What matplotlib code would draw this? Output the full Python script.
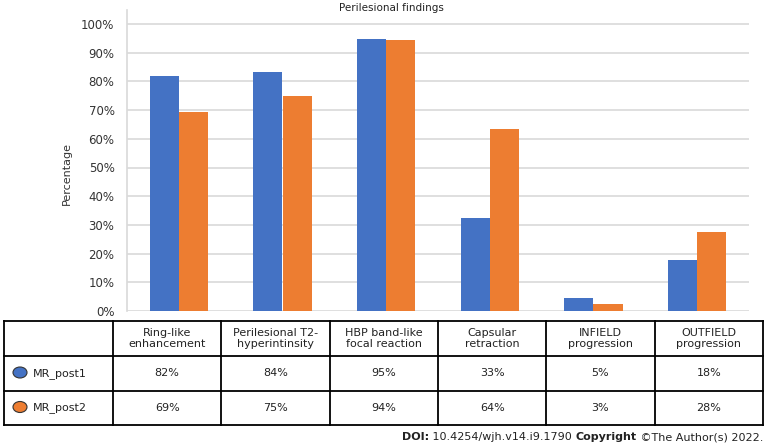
import numpy as np
import matplotlib
matplotlib.use('Agg')
import matplotlib.pyplot as plt
from matplotlib.patches import Ellipse

# data
categories = ['Ring-like\nenhancement', 'Perilesional T2-\nhyperintinsity', 'HBP band-like\nfocal reaction',
              'Capsular\nretraction', 'INFIELD\nprogression', 'OUTFIELD\nprogression']
series_names = ['MR_post1', 'MR_post2']
post1 = [0.818, 0.833, 0.949, 0.323, 0.046, 0.177]
post2 = [0.692, 0.748, 0.943, 0.634, 0.024, 0.274]
post1_labels = ['82%', '84%', '95%', '33%', '5%', '18%']
post2_labels = ['69%', '75%', '94%', '64%', '3%', '28%']
yticks = [0, 0.1, 0.2, 0.3, 0.4, 0.5, 0.6, 0.7, 0.8, 0.9, 1.0]

blue = '#4472C4'
orange = '#ED7D31'
grid_col = '#d9d9d9'

plt.rcParams['font.family'] = ['DejaVu Sans']

W, H = 765, 447
fig = plt.figure(figsize=(W / 100, H / 100), dpi=100)

def fx(px):
    return px / W

def fy(py):
    return 1 - py / H

# bar chart
ax = fig.add_axes([fx(127), fy(311), fx(749) - fx(127), fy(10) - fy(311)])
x = np.arange(len(categories))
bw = 0.28
ax.bar(x - bw / 2, post1, bw, color=blue, zorder=3)
ax.bar(x + bw / 2, post2, bw, color=orange, zorder=3)
ax.set_xlim(-0.5, len(categories) - 0.5)
ax.set_ylim(0, 1.0 + 14 / 287)
ax.set_yticks(yticks)
ax.set_yticklabels(['%d%%' % round(v * 100) for v in yticks], fontsize=8.5, color='#333333')
ax.set_xticks([])
ax.tick_params(axis='y', length=0, pad=9)
for v in yticks:
    ax.axhline(v, color=grid_col, lw=1.2, zorder=1)
for s in ['top', 'right', 'bottom']:
    ax.spines[s].set_visible(False)
ax.spines['left'].set_color(grid_col)
ax.spines['left'].set_linewidth(1.2)
ax.set_ylabel('Percentage', fontsize=8, color='#333333')
ax.yaxis.set_label_coords(-0.088, 0.458)
fig.text(fx(391), fy(8), 'Perilesional findings', ha='center', va='center', fontsize=7.5, color='#222222')

# data table
tax = fig.add_axes([fx(4), fy(425), fx(763) - fx(4), fy(321) - fy(425)])
tax.set_xlim(4, 763)
tax.set_ylim(425, 321)
tax.axis('off')
col_edges = [4, 113] + [113 + (763 - 113) / 6 * (i + 1) for i in range(6)]
row_edges = [321, 356, 391, 425]
for xe in col_edges:
    tax.plot([xe, xe], [321, 425], color='black', lw=1.3, clip_on=False)
for ye in row_edges:
    tax.plot([4, 763], [ye, ye], color='black', lw=1.3, clip_on=False)
for i, cat in enumerate(categories):
    cx = (col_edges[i + 1] + col_edges[i + 2]) / 2
    tax.text(cx, (row_edges[0] + row_edges[1]) / 2, cat, ha='center', va='center',
             fontsize=8, color='#222222', linespacing=1.1)
    tax.text(cx, (row_edges[1] + row_edges[2]) / 2, post1_labels[i], ha='center', va='center',
             fontsize=8, color='#222222')
    tax.text(cx, (row_edges[2] + row_edges[3]) / 2, post2_labels[i], ha='center', va='center',
             fontsize=8, color='#222222')
for r, (name, col) in enumerate(zip(series_names, [blue, orange])):
    cy = (row_edges[r + 1] + row_edges[r + 2]) / 2
    tax.add_patch(Ellipse((20, cy - 1), 14, 11, facecolor=col, edgecolor='#333333', lw=0.8))
    tax.text(33, cy, name, ha='left', va='center', fontsize=8, color='#222222')

# DOI footer
fig.canvas.draw()
renderer = fig.canvas.get_renderer()
parts = [('DOI:', 'bold'), (' 10.4254/wjh.v14.i9.1790 ', 'normal'),
         ('Copyright', 'bold'), (' \u00a9The Author(s) 2022.', 'normal')]
xr = fx(763)
for txt, wt in reversed(parts):
    t = fig.text(xr, fy(437), txt, ha='right', va='center', fontsize=8, fontweight=wt, color='#222222')
    bb = t.get_window_extent(renderer)
    xr -= bb.width / W

fig.savefig('out.png', dpi=100)
